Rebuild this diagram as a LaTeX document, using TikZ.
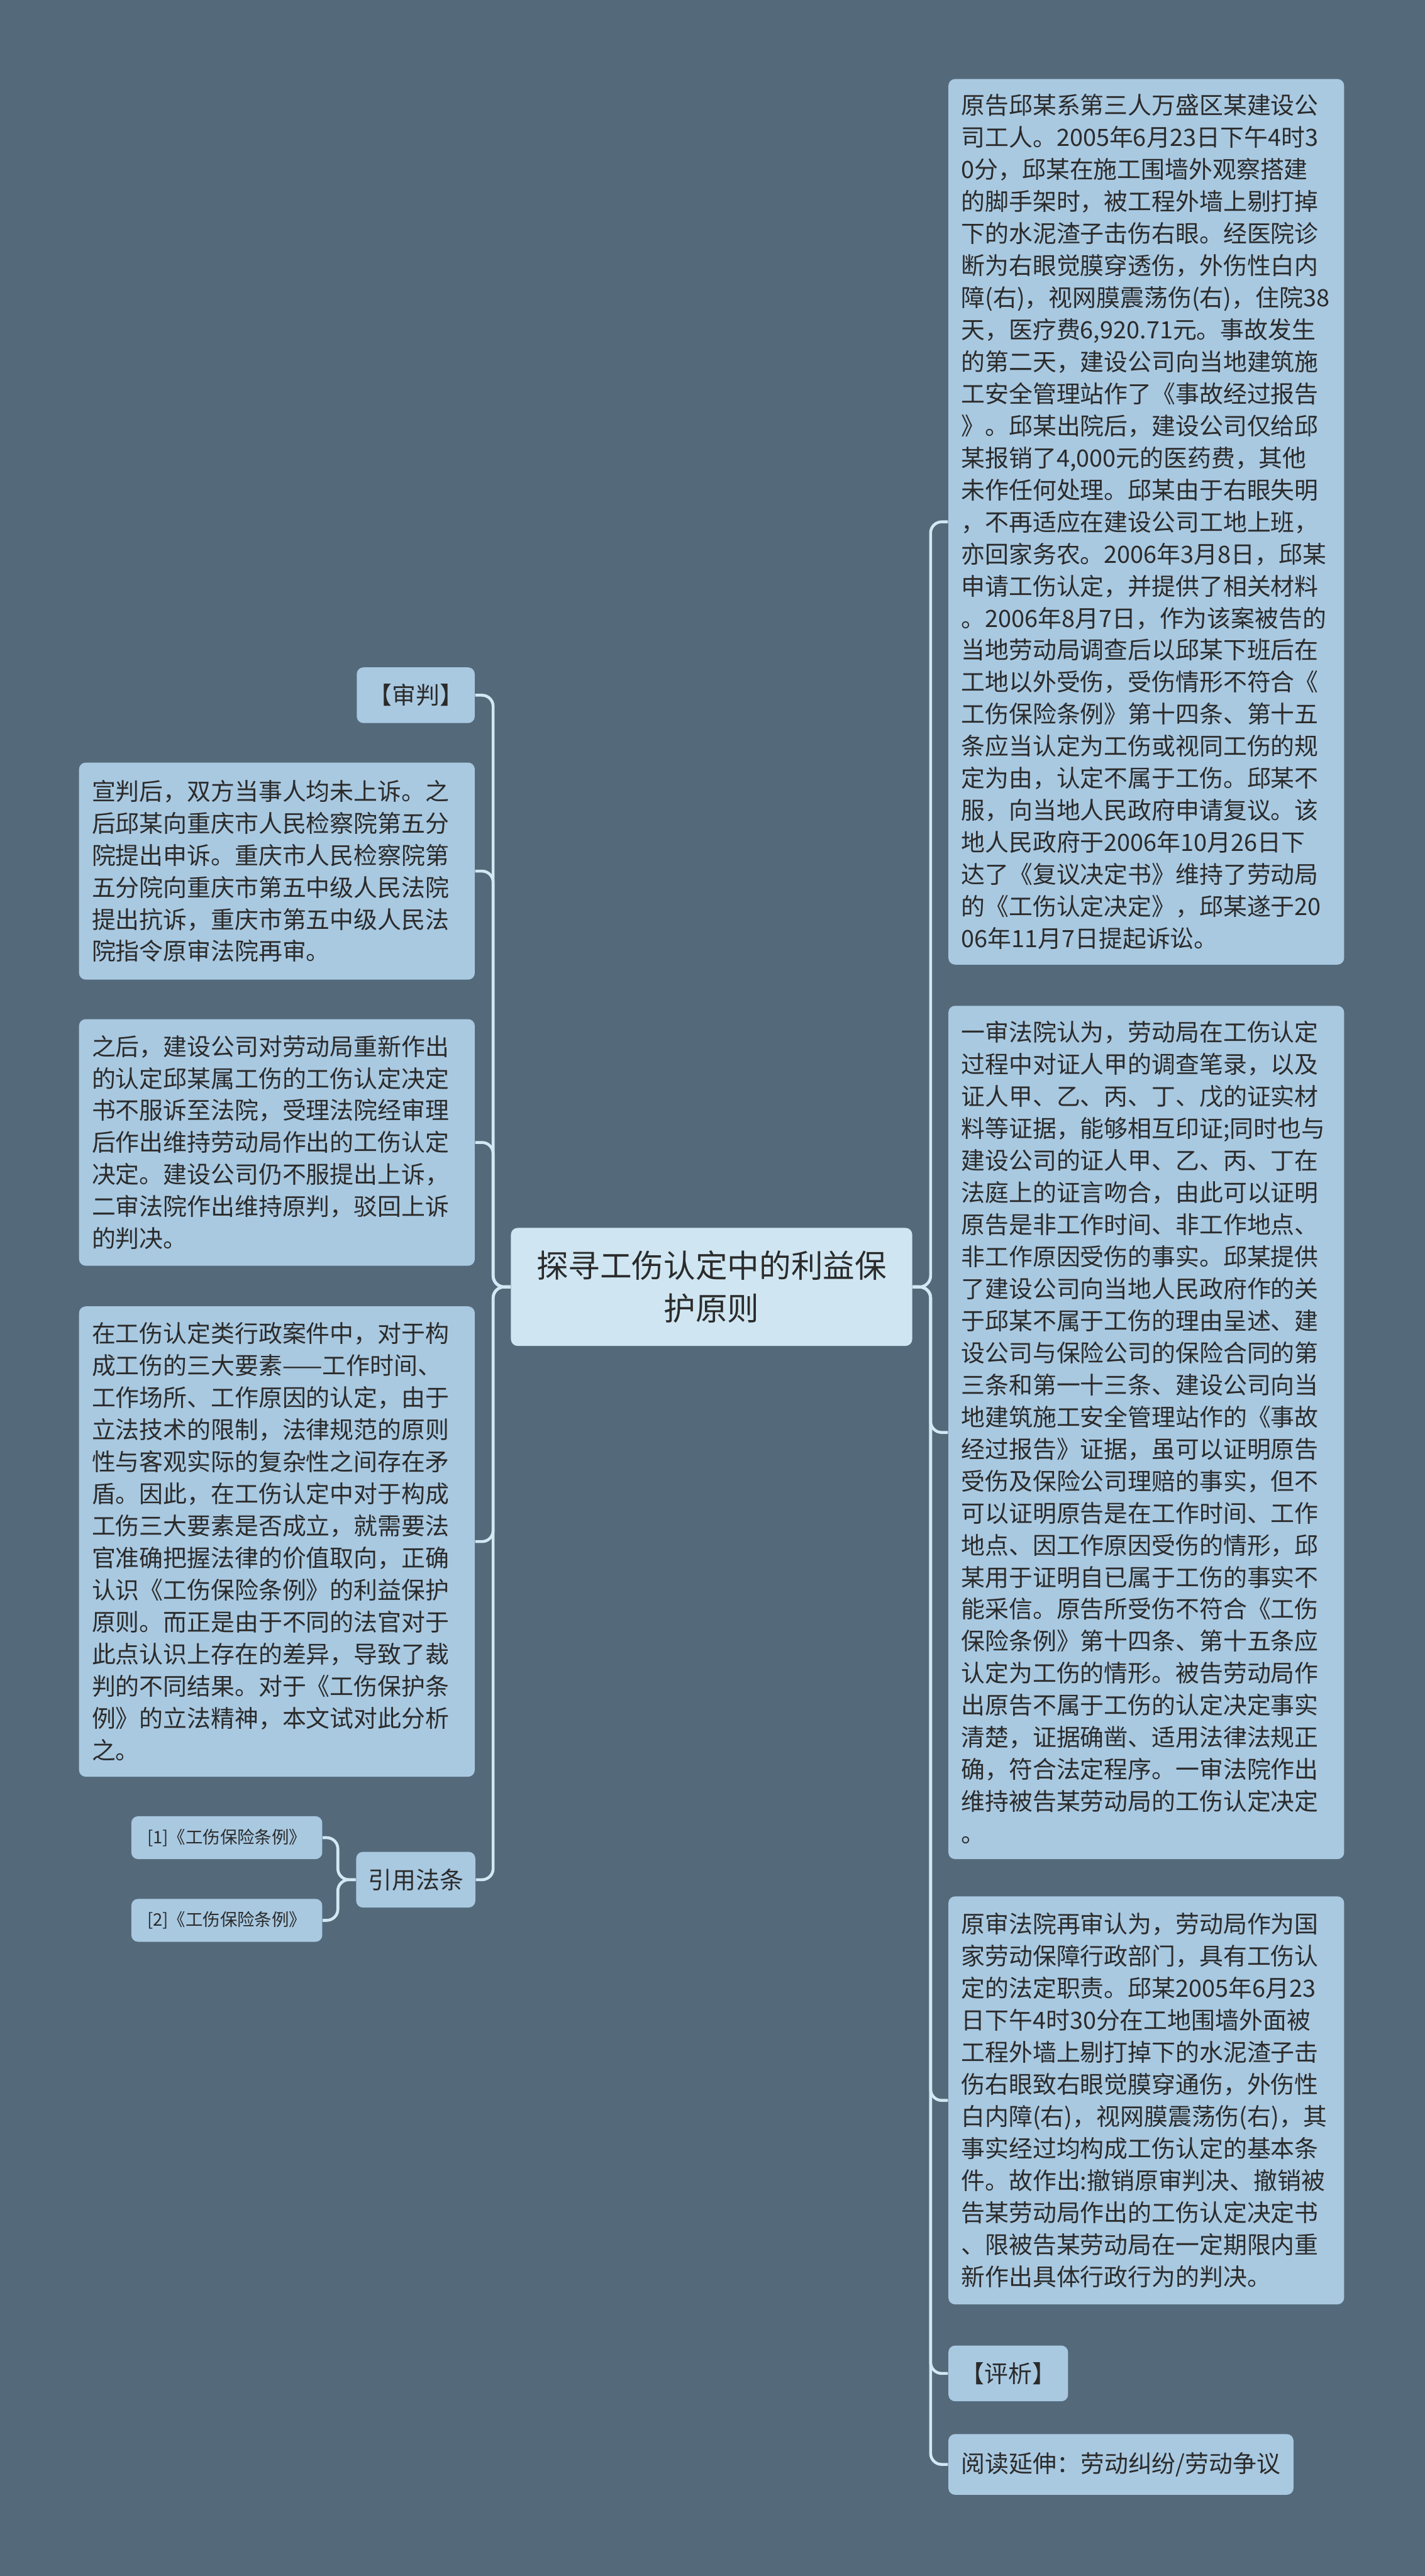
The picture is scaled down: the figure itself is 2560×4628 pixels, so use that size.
\documentclass[tikz,border=0pt]{standalone}
\usepackage{fontspec}
\setmainfont{Noto Sans CJK SC}
\definecolor{bgc}{HTML}{546A7B}
\definecolor{nfill}{HTML}{A9C9E1}
\definecolor{rfill}{HTML}{CFE6F2}
\definecolor{lnc}{HTML}{D2E8F3}
\definecolor{txc}{HTML}{2B2B2B}
\newcommand\bodyfs{\fontsize{10.7pt}{14.4pt}\selectfont}
\newcommand\rootfs{\fontsize{14.3pt}{19.25pt}\selectfont}
\newcommand\reffs{\fontsize{7.75pt}{9.5pt}\selectfont}
\begin{document}
\begin{tikzpicture}[x=0.25pt,y=-0.25pt,
  box/.style={rounded corners=3pt, fill=nfill, text=txc, inner ysep=0pt, font=\bodyfs},
  bigbox/.style={box, inner xsep=5.75pt, text width=166.25pt, align=left},
  smallbox/.style={box, inner xsep=0pt, align=center},
  conn/.style={draw=lnc, line width=1.3pt, rounded corners=5pt}]
\useasboundingbox (0,0) rectangle (2560,4628);
\fill[bgc] (0,0) rectangle (2560,4628);

% root
\node[box, fill=rfill, font=\rootfs, align=center, text width=175pt, inner xsep=0pt,
  minimum width=180.25pt, minimum height=53pt] (root) at (1278.5,2312)
  {探寻工伤认定中的利益保\\护原则};

% right column
\node[bigbox, minimum height=397.75pt] (r1) at (2059.5,937.5) {原告邱某系第三人万盛区某建设公\\
司工人。2005年6月23日下午4时3\\
0分，邱某在施工围墙外观察搭建\\
的脚手架时，被工程外墙上剔打掉\\
下的水泥渣子击伤右眼。经医院诊\\
断为右眼觉膜穿透伤，外伤性白内\\
障(右)，视网膜震荡伤(右)，住院38\\
天，医疗费6,920.71元。事故发生\\
的第二天，建设公司向当地建筑施\\
工安全管理站作了《事故经过报告\\
》。邱某出院后，建设公司仅给邱\\
某报销了4,000元的医药费，其他\\
未作任何处理。邱某由于右眼失明\\
，不再适应在建设公司工地上班，\\
亦回家务农。2006年3月8日，邱某\\
申请工伤认定，并提供了相关材料\\
。2006年8月7日，作为该案被告的\\
当地劳动局调查后以邱某下班后在\\
工地以外受伤，受伤情形不符合《\\
工伤保险条例》第十四条、第十五\\
条应当认定为工伤或视同工伤的规\\
定为由，认定不属于工伤。邱某不\\
服，向当地人民政府申请复议。该\\
地人民政府于2006年10月26日下\\
达了《复议决定书》维持了劳动局\\
的《工伤认定决定》，邱某遂于20\\
06年11月7日提起诉讼。};

\node[bigbox, minimum height=383.25pt] (r2) at (2059.5,2573.5) {一审法院认为，劳动局在工伤认定\\
过程中对证人甲的调查笔录，以及\\
证人甲、乙、丙、丁、戊的证实材\\
料等证据，能够相互印证;同时也与\\
建设公司的证人甲、乙、丙、丁在\\
法庭上的证言吻合，由此可以证明\\
原告是非工作时间、非工作地点、\\
非工作原因受伤的事实。邱某提供\\
了建设公司向当地人民政府作的关\\
于邱某不属于工伤的理由呈述、建\\
设公司与保险公司的保险合同的第\\
三条和第一十三条、建设公司向当\\
地建筑施工安全管理站作的《事故\\
经过报告》证据，虽可以证明原告\\
受伤及保险公司理赔的事实，但不\\
可以证明原告是在工作时间、工作\\
地点、因工作原因受伤的情形，邱\\
某用于证明自已属于工伤的事实不\\
能采信。原告所受伤不符合《工伤\\
保险条例》第十四条、第十五条应\\
认定为工伤的情形。被告劳动局作\\
出原告不属于工伤的认定决定事实\\
清楚，证据确凿、适用法律法规正\\
确，符合法定程序。一审法院作出\\
维持被告某劳动局的工伤认定决定\\
。};

\node[bigbox, minimum height=183.25pt] (r3) at (2059.5,3773.5) {原审法院再审认为，劳动局作为国\\
家劳动保障行政部门，具有工伤认\\
定的法定职责。邱某2005年6月23\\
日下午4时30分在工地围墙外面被\\
工程外墙上剔打掉下的水泥渣子击\\
伤右眼致右眼觉膜穿通伤，外伤性\\
白内障(右)，视网膜震荡伤(右)，其\\
事实经过均构成工伤认定的基本条\\
件。故作出:撤销原审判决、撤销被\\
告某劳动局作出的工伤认定决定书\\
、限被告某劳动局在一定期限内重\\
新作出具体行政行为的判决。};

\node[smallbox, minimum width=53.75pt, minimum height=25pt] (px) at (1811.5,4264) {【评析】};
\node[smallbox, minimum width=155pt, minimum height=27.25pt] (yd) at (2014,4427.5) {阅读延伸：劳动纠纷/劳动争议};

% left column
\node[smallbox, minimum width=53pt, minimum height=25pt] (sp) at (747,1249) {【审判】};

\node[bigbox, minimum height=97.5pt] (l1) at (497.5,1565) {宣判后，双方当事人均未上诉。之\\
后邱某向重庆市人民检察院第五分\\
院提出申诉。重庆市人民检察院第\\
五分院向重庆市第五中级人民法院\\
提出抗诉，重庆市第五中级人民法\\
院指令原审法院再审。};

\node[bigbox, minimum height=110.75pt] (l2) at (497.5,2052.5) {之后，建设公司对劳动局重新作出\\
的认定邱某属工伤的工伤认定决定\\
书不服诉至法院，受理法院经审理\\
后作出维持劳动局作出的工伤认定\\
决定。建设公司仍不服提出上诉，\\
二审法院作出维持原判，驳回上诉\\
的判决。};

\node[bigbox, minimum height=211.25pt] (l3) at (497.5,2769.5) {在工伤认定类行政案件中，对于构\\
成工伤的三大要素——工作时间、\\
工作场所、工作原因的认定，由于\\
立法技术的限制，法律规范的原则\\
性与客观实际的复杂性之间存在矛\\
盾。因此，在工伤认定中对于构成\\
工伤三大要素是否成立，就需要法\\
官准确把握法律的价值取向，正确\\
认识《工伤保险条例》的利益保护\\
原则。而正是由于不同的法官对于\\
此点认识上存在的差异，导致了裁\\
判的不同结果。对于《工伤保护条\\
例》的立法精神，本文试对此分析\\
之。};

\node[smallbox, minimum width=53.5pt, minimum height=25pt] (yy) at (747,3377) {引用法条};
\node[smallbox, font=\reffs, minimum width=85.75pt, minimum height=19.25pt] (f1) at (407.5,3301.5) {[1]《工伤保险条例》};
\node[smallbox, font=\reffs, minimum width=85.75pt, minimum height=19.25pt] (f2) at (407.5,3450) {[2]《工伤保险条例》};

% trunks
\coordinate (LT) at (886,2312);
\coordinate (RT) at (1672,2312);
\coordinate (YT) at (607,3377);

% connectors
\foreach \c in {sp,l1,l2,l3,yy}{\draw[conn] (root.west) -- (LT) |- (\c.east);}
\foreach \c in {r1,r2,r3,px,yd}{\draw[conn] (root.east) -- (RT) |- (\c.west);}
\foreach \c in {f1,f2}{\draw[conn] (yy.west) -- (YT) |- (\c.east);}
\end{tikzpicture}
\end{document}
